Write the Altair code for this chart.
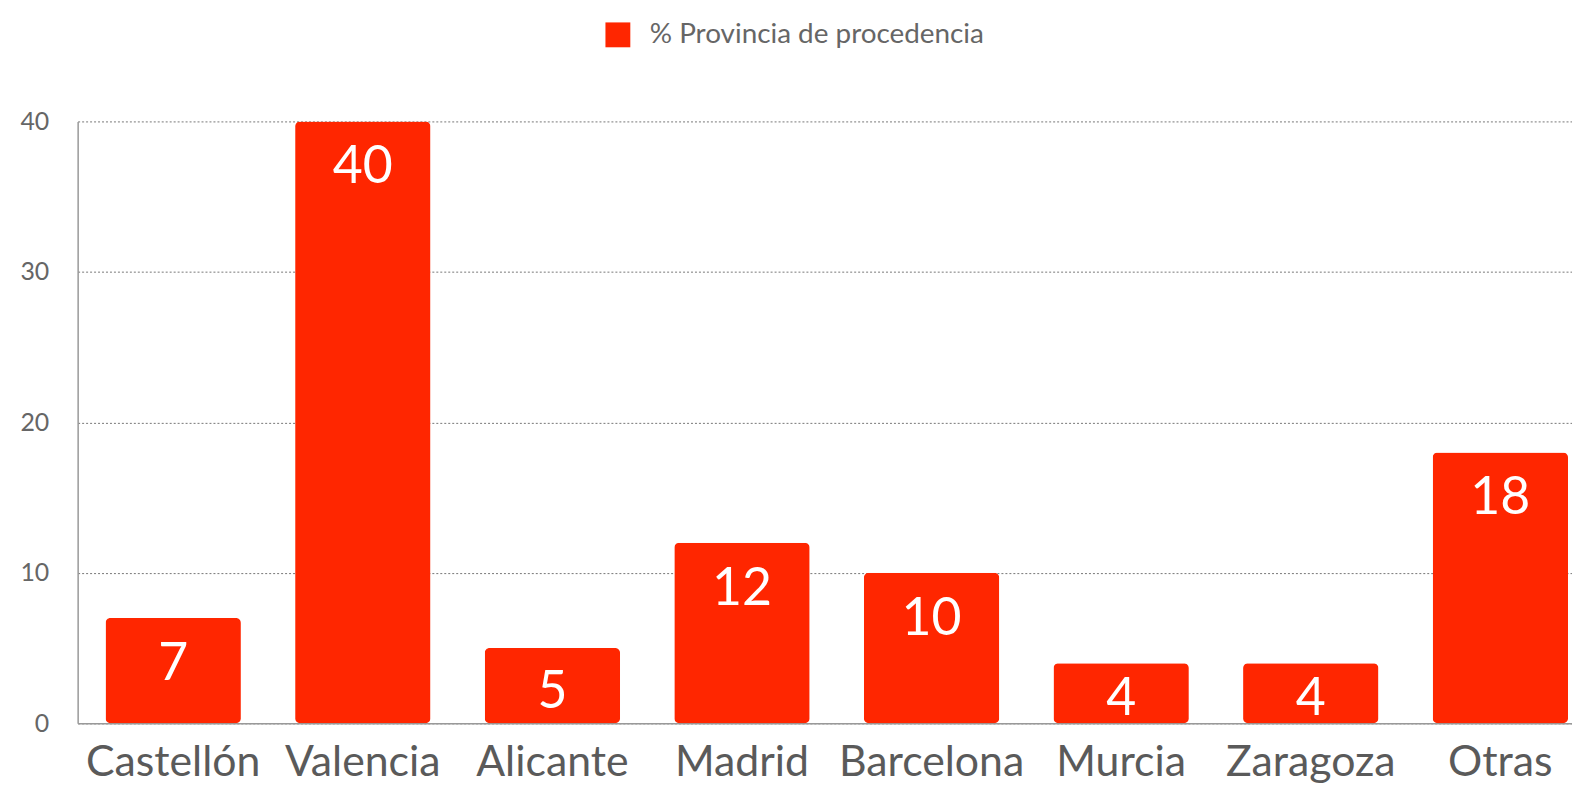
import altair as alt
import pandas as pd

provincias = ["Castellón", "Valencia", "Alicante", "Madrid", "Barcelona", "Murcia", "Zaragoza", "Otras"]
porcentajes = [7, 40, 5, 12, 10, 4, 4, 18]
serie = "% Provincia de procedencia"
y_ticks = [0, 10, 20, 30, 40]

df = pd.DataFrame({
    "provincia": provincias,
    "valor": porcentajes,
    "serie": [serie] * len(provincias),
})

FONT = "Lato"
RED = "#ff2600"
GRAY = "#5a5a5a"

x_axis = alt.Axis(labelAngle=0, labelFontSize=43, labelColor=GRAY, labelFont=FONT,
                  ticks=False, tickSize=0, labelPadding=52, labelBaseline="alphabetic",
                  labelLimit=0, labelOverlap=False,
                  domainColor="#999999", domainWidth=1.5, grid=False)
y_axis = alt.Axis(values=y_ticks, labelFontSize=25, labelColor="#666666", labelFont=FONT,
                  ticks=False, tickSize=0, labelPadding=29,
                  domainColor="#999999", domainWidth=1.5,
                  grid=True, gridColor="#777777", gridDash=[2, 2], gridWidth=1)
x_scale = alt.Scale(paddingInner=0.286, paddingOuter=0.084, align=0.875)
y_scale = alt.Scale(domain=[0, 40], nice=False)

bars = alt.Chart(df).mark_bar(cornerRadius=5).encode(
    x=alt.X("provincia:N", sort=provincias, title=None, scale=x_scale, axis=x_axis),
    y=alt.Y("valor:Q", title=None, scale=y_scale, axis=y_axis),
    color=alt.Color(
        "serie:N", scale=alt.Scale(range=[RED]),
        legend=alt.Legend(title=None, orient="none", legendX=529, legendY=-101,
                          symbolType="square", symbolSize=625, symbolStrokeWidth=0,
                          labelFontSize=28, labelFont=FONT, labelColor="#666666",
                          labelOffset=18, labelLimit=0),
    ),
)

labels = alt.Chart(df).transform_calculate(
    pos="max(datum.valor - 2.65, datum.valor / 2)"
).mark_text(
    color="white", fontSize=52, font=FONT, baseline="middle", align="center", dy=6
).encode(
    x=alt.X("provincia:N", sort=provincias, title=None, scale=x_scale, axis=x_axis),
    y=alt.Y("pos:Q", title=None, scale=y_scale, axis=y_axis),
    text=alt.Text("valor:Q"),
)

chart = alt.layer(bars, labels).properties(
    width=1502, height=605,
    autosize=alt.AutoSizeParams(type="none"),
    padding={"left": 70, "top": 112, "right": 0, "bottom": 63},
    background="white",
).configure_view(stroke=None)

chart.save("out.html", embed_options={"renderer": "svg", "actions": False})
